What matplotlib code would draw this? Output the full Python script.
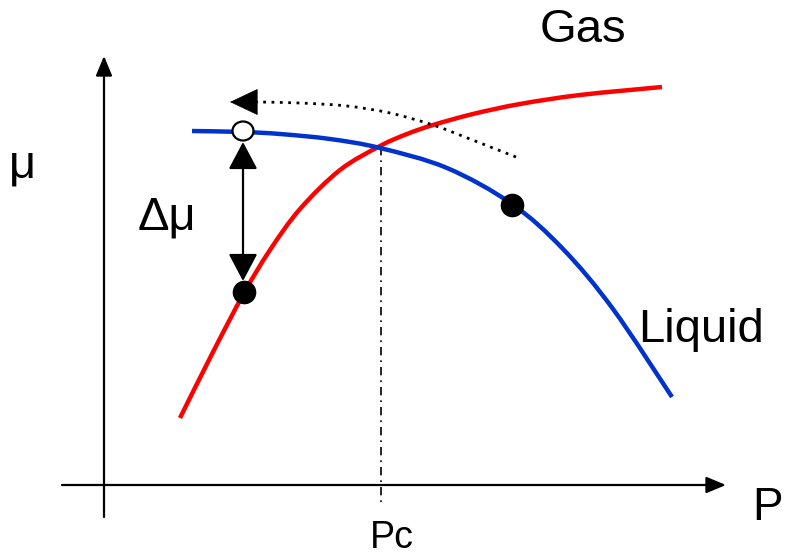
import numpy as np
import matplotlib
matplotlib.use("Agg")
import matplotlib.pyplot as plt
from matplotlib.path import Path
from matplotlib.patches import PathPatch, Ellipse

H = 556  # figure height in px; data use mu = H - pixel row

# Gas curve (red): P, mu
gas_P  = [180, 212, 244, 270, 300, 340, 380, 407, 433, 473, 520, 580, 662]
gas_mu = [H-418, H-354, H-293, H-250, H-209, H-170, H-146, H-134, H-125,
          H-114, H-104, H-95, H-87]

# Liquid curve (blue)
liq_P  = [192, 243, 280, 330, 380, 447, 512, 563, 613, 672]
liq_mu = [H-131, H-132, H-134, H-139, H-148, H-168, H-204, H-249, H-309, H-397]

# dotted path (shift along liquid curve)
shift_P  = [516, 470, 433, 390, 347, 300, 257]
shift_mu = [H-157, H-139, H-125, H-113, H-106, H-103, H-102]

Pc = 381
open_pt = (243, H-131)
liq_pt = (512, H-205)
gas_pt = (244, H-292)

def smooth_path(xs, ys):
    pts = np.column_stack([xs, ys]).astype(float)
    n = len(pts)
    verts = [pts[0]]
    codes = [Path.MOVETO]
    for i in range(n-1):
        p0 = pts[i-1] if i > 0 else pts[i]
        p1 = pts[i]
        p2 = pts[i+1]
        p3 = pts[i+2] if i+2 < n else pts[i+1]
        c1 = p1 + (p2 - p0) / 6.0
        c2 = p2 - (p3 - p1) / 6.0
        verts += [c1, c2, p2]
        codes += [Path.CURVE4]*3
    return Path(verts, codes)

fig = plt.figure(figsize=(7.86, 5.56), dpi=100)
ax = fig.add_axes([0, 0, 1, 1])
ax.set_xlim(0, 786)
ax.set_ylim(0, 556)
ax.axis("off")

font = ["Liberation Sans", "DejaVu Sans"]

# axes
ax.annotate("", xy=(726, H-485), xytext=(62, H-485),
            arrowprops=dict(arrowstyle="-|>,head_length=0.6,head_width=0.25",
                            lw=1.6, color="black", shrinkA=0, shrinkB=0,
                            mutation_scale=20))
ax.annotate("", xy=(104, H-56), xytext=(104, H-517),
            arrowprops=dict(arrowstyle="-|>,head_length=0.6,head_width=0.25",
                            lw=1.6, color="black", shrinkA=0, shrinkB=0,
                            mutation_scale=20))

# Pc dash-dot line
ax.plot([Pc, Pc], [H-147, H-502], color="black", lw=1.2,
        dashes=(5, 3, 1, 3))

# curves
ax.add_patch(PathPatch(smooth_path(gas_P, gas_mu), fill=False,
                       edgecolor="#FF0000", lw=3.2, zorder=3))
ax.add_patch(PathPatch(smooth_path(liq_P, liq_mu), fill=False,
                       edgecolor="#0033CC", lw=3.2, zorder=3))

# dotted curved arrow
ax.add_patch(PathPatch(smooth_path(shift_P, shift_mu), fill=False,
                       edgecolor="black", lw=2.0, linestyle=(0, (1, 2)),
                       capstyle="butt", zorder=4))
ax.annotate("", xy=(230, H-102), xytext=(258, H-102),
            arrowprops=dict(arrowstyle="-|>,head_length=0.95,head_width=0.45",
                            lw=0.5, color="black", shrinkA=0, shrinkB=0,
                            mutation_scale=20), zorder=5)

# delta mu double arrow
ax.annotate("", xy=(243, H-142), xytext=(243, H-281),
            arrowprops=dict(arrowstyle="<|-|>,head_length=0.85,head_width=0.45",
                            lw=1.6, color="black", shrinkA=0, shrinkB=0,
                            mutation_scale=20), zorder=5)

# markers
ax.plot([liq_pt[0], gas_pt[0]], [liq_pt[1], gas_pt[1]], "o", color="black",
        ms=16, zorder=6)
ax.add_patch(Ellipse(open_pt, 21, 19, facecolor="white", edgecolor="black",
                     lw=1.6, zorder=6))

# labels
ax.text(583, H-30, "Gas", fontsize=34, family=font, ha="center", va="center")
ax.text(701, H-330, "Liquid", fontsize=34, family=font, ha="center", va="center")
ax.text(768, H-508, "P", fontsize=33, family=font, ha="center", va="center")
ax.text(392, H-538, "Pc", fontsize=27, family=font, ha="center", va="center")
ax.text(22, H-165, "μ", fontsize=34, family=font, ha="center", va="center")
ax.text(167, H-217, "Δμ", fontsize=34, family=font, ha="center", va="center")

fig.savefig("out.png", dpi=100)
